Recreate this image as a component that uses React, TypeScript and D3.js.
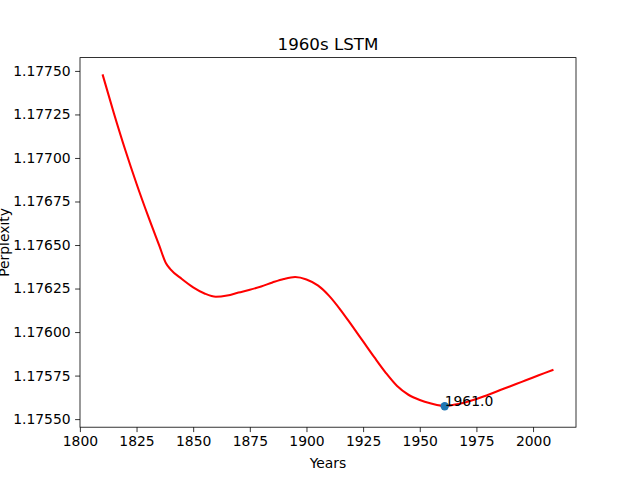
import React, { useEffect, useRef } from 'react';
import * as d3 from 'd3';

// values
const years = [
  1810, 1815, 1820, 1825, 1830, 1835, 1838, 1840, 1845, 1850, 1855, 1860, 1865, 1870,
  1875, 1880, 1885, 1890, 1895, 1900, 1905, 1910, 1915, 1920, 1925, 1930, 1935, 1940,
  1945, 1950, 1955, 1960, 1961, 1965, 1970, 1975, 1980, 1985, 1990, 1995, 2000, 2005, 2009,
];
const perplexity = [
  1.177480, 1.177257, 1.177047, 1.176852, 1.17667, 1.176498, 1.176395, 1.17636, 1.176305,
  1.176257, 1.176222, 1.176203, 1.17621, 1.176227, 1.176243, 1.176262, 1.176285, 1.176305,
  1.176316, 1.176302, 1.176268, 1.176208, 1.176128, 1.176038, 1.175946, 1.175854, 1.175766,
  1.17569, 1.17564, 1.17561, 1.17559, 1.175576, 1.175574, 1.175582, 1.175596, 1.175615,
  1.175639, 1.175664, 1.175689, 1.175714, 1.175739, 1.175764, 1.175784,
];
const minYear = 1961;
const minLabel = '1961.0';
const xTicks = [1800, 1825, 1850, 1875, 1900, 1925, 1950, 1975, 2000];
const yTicks = [1.1755, 1.17575, 1.176, 1.17625, 1.1765, 1.17675, 1.177, 1.17725, 1.1775];

const W = 640;
const H = 480;
const margin = { top: 57.6, right: 64, bottom: 52.8, left: 80 };
const font = 'DejaVu Sans, sans-serif';
const markerR = 4.17;

const App: React.FC = () => {
  const svgRef = useRef<SVGSVGElement | null>(null);

  useEffect(() => {
    const svg = d3.select(svgRef.current);
    svg.selectAll('*').remove();

    const data = years.map((y, i) => ({ year: y, value: perplexity[i] }));

    // matplotlib-like 5% margins (scatter marker size counted in the y limits)
    const xExt = d3.extent(years) as [number, number];
    const yExt = d3.extent(perplexity) as [number, number];
    const xPad = (xExt[1] - xExt[0]) * 0.05;
    const plotH = H - margin.top - margin.bottom;
    const span = yExt[1] - yExt[0];
    const perPx = (1.1 * span) / (plotH - 1.1 * markerR);
    const ySpan = span + markerR * perPx;
    const yPad = ySpan * 0.05;

    const x = d3
      .scaleLinear()
      .domain([xExt[0] - xPad, xExt[1] + xPad])
      .range([margin.left, W - margin.right]);
    const y = d3
      .scaleLinear()
      .domain([yExt[0] - markerR * perPx - yPad, yExt[1] + yPad])
      .range([H - margin.bottom, margin.top]);

    svg.append('rect').attr('width', W).attr('height', H).attr('fill', 'white');

    // axes
    const xAxis = svg
      .append('g')
      .attr('transform', `translate(0,${H - margin.bottom})`)
      .call(d3.axisBottom(x).tickValues(xTicks).tickSize(4.9).tickPadding(4.5).tickFormat(d3.format('d')));
    const yAxis = svg
      .append('g')
      .attr('transform', `translate(${margin.left},0)`)
      .call(d3.axisLeft(y).tickValues(yTicks).tickSize(4.9).tickPadding(4.5).tickFormat(d3.format('.5f')));

    [xAxis, yAxis].forEach((g) => {
      g.select('.domain').remove();
      g.selectAll('line').attr('stroke', 'black').attr('stroke-width', 0.8);
      g.selectAll('text')
        .attr('fill', 'black')
        .style('font-family', font)
        .style('font-size', '13.9px');
    });

    // line
    const line = d3
      .line<{ year: number; value: number }>()
      .x((d) => x(d.year))
      .y((d) => y(d.value))
      .curve(d3.curveMonotoneX);

    svg
      .append('path')
      .datum(data)
      .attr('d', line)
      .attr('fill', 'none')
      .attr('stroke', 'red')
      .attr('stroke-width', 2.08);

    // minimum marker + annotation
    const minIdx = years.indexOf(minYear);
    const mx = x(minYear);
    const my = y(perplexity[minIdx]);
    svg.append('circle').attr('cx', mx).attr('cy', my).attr('r', markerR).attr('fill', '#1f77b4');
    svg
      .append('text')
      .attr('x', mx)
      .attr('y', my)
      .style('font-family', font)
      .style('font-size', '13.9px')
      .attr('fill', 'black')
      .text(minLabel);

    // frame
    svg
      .append('rect')
      .attr('x', margin.left)
      .attr('y', margin.top)
      .attr('width', W - margin.left - margin.right)
      .attr('height', plotH)
      .attr('fill', 'none')
      .attr('stroke', 'black')
      .attr('stroke-width', 0.8);

    // titles
    svg
      .append('text')
      .attr('x', (margin.left + W - margin.right) / 2)
      .attr('y', margin.top - 8)
      .attr('text-anchor', 'middle')
      .style('font-family', font)
      .style('font-size', '16.7px')
      .text('1960s LSTM');

    svg
      .append('text')
      .attr('x', (margin.left + W - margin.right) / 2)
      .attr('y', 468)
      .attr('text-anchor', 'middle')
      .style('font-family', font)
      .style('font-size', '13.9px')
      .text('Years');

    svg
      .append('text')
      .attr('transform', `translate(9,${margin.top + plotH / 2}) rotate(-90)`)
      .attr('text-anchor', 'middle')
      .style('font-family', font)
      .style('font-size', '13.9px')
      .text('Perplexity');
  }, []);

  return (
    <svg
      ref={svgRef}
      width={W}
      height={H}
      style={{ position: 'absolute', left: 0, top: 0 }}
    ></svg>
  );
};

export default App;
